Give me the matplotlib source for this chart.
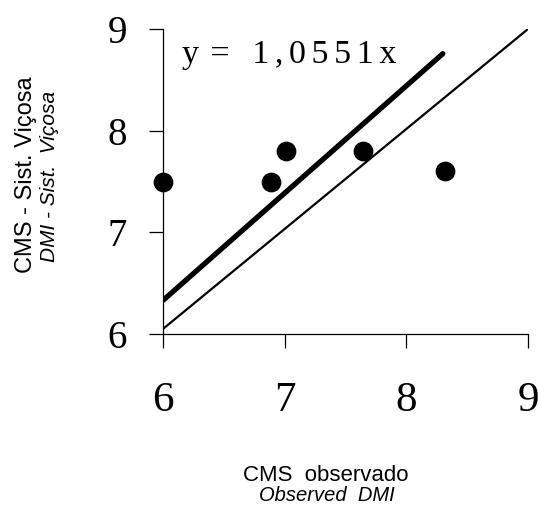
import matplotlib
matplotlib.use("Agg")
import matplotlib.pyplot as plt

# observed vs. Viçosa-system predicted DMI
observed = [6.0, 6.89, 7.01, 7.64, 8.32]
predicted = [7.5, 7.5, 7.8, 7.8, 7.6]

# fitted line y = 1.0551x and the 1:1 reference line
slope = 1.0551
fit_x = [6.0, 8.3]
ref_x = [6.0, 9.0]
ref_y = [6.05, 9.0]

ticks = [6, 7, 8, 9]

serif = ["Liberation Serif", "DejaVu Serif"]
sans = ["Liberation Sans", "DejaVu Sans"]

fig = plt.figure(figsize=(5.38, 5.12), dpi=100)
ax = fig.add_axes([163 / 538, 1 - 334 / 512, 365 / 538, 305 / 512])

ax.plot(ref_x, ref_y, color="black", lw=1.6, solid_capstyle="butt")
ax.plot(fit_x, [slope * v for v in fit_x], color="black", lw=3.8,
        solid_capstyle="round")
ax.scatter(observed, predicted, s=175, color="black", zorder=3,
           clip_on=False)

ax.set_xlim(6, 9)
ax.set_ylim(6, 9)
ax.set_xticks(ticks)
ax.set_yticks(ticks)
ax.spines["top"].set_visible(False)
ax.spines["right"].set_visible(False)
for s in ("left", "bottom"):
    ax.spines[s].set_linewidth(0.9)
ax.tick_params(direction="out", length=10, width=0.9)
ax.tick_params(axis="y", labelsize=28, pad=16)
ax.tick_params(axis="x", labelsize=31, pad=24)
for lab in ax.get_xticklabels() + ax.get_yticklabels():
    lab.set_fontfamily(serif)

# wide-set equation label
eq = "y\u200a = \u2005\u2006" + "\u2006".join("1,0551x")
ax.text(6.154, 8.669, eq, fontsize=24.5, family=serif, va="baseline",
        ha="left")

fig.text(326 / 538, 1 - 481 / 512, "CMS  observado", fontsize=16,
         family=sans, ha="center", va="baseline")
fig.text(327 / 538, 1 - 501 / 512, "Observed  DMI", fontsize=14.5,
         family=sans, style="italic", ha="center", va="baseline")

fig.text(32 / 538, 1 - 175 / 512, "CMS - Sist. Viçosa", fontsize=17,
         family=sans, rotation=90, rotation_mode="anchor", ha="center",
         va="baseline")
fig.text(55 / 538, 1 - 176 / 512, "DMI - Sist.  Viçosa", fontsize=15,
         family=sans, style="italic", rotation=90, rotation_mode="anchor",
         ha="center", va="baseline")

fig.savefig("out.png", dpi=100)
